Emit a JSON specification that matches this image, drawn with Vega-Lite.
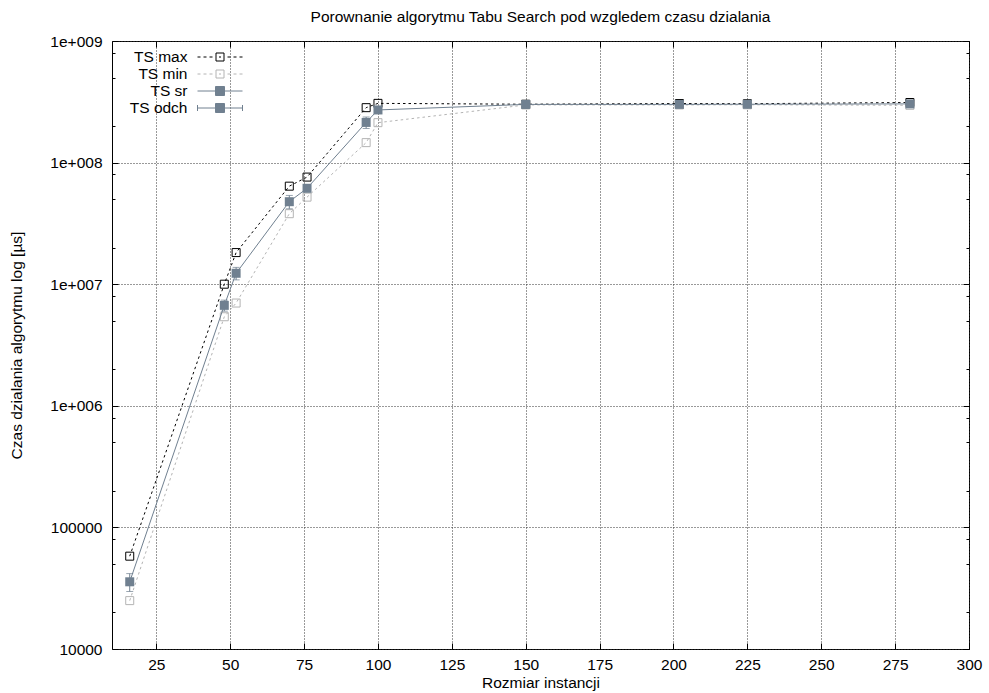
{
  "$schema": "https://vega.github.io/schema/vega-lite/v6.json",
  "width": 857,
  "height": 608,
  "autosize": {"type": "none"},
  "padding": {"left": 112, "top": 41, "right": 20, "bottom": 44},
  "background": "white",
  "title": {
    "text": "Porownanie algorytmu Tabu Search pod wzgledem czasu dzialania",
    "font": "Liberation Sans",
    "fontSize": 15.5,
    "fontWeight": "normal",
    "color": "#000",
    "anchor": "middle",
    "offset": 9
  },
  "config": {
    "font": "Liberation Sans",
    "view": {"stroke": "#000", "strokeWidth": 1},
    "axis": {
      "domain": false,
      "grid": false,
      "labelFont": "Liberation Sans",
      "labelFontSize": 15.5,
      "labelColor": "#000",
      "labelFlush": false,
      "labelOverlap": false,
      "titleFont": "Liberation Sans",
      "titleFontSize": 15.5,
      "titleFontWeight": "normal",
      "titleColor": "#000",
      "tickColor": "#000",
      "tickWidth": 1
    }
  },
  "datasets": {
    "tabu": [
      {"n": 16, "max": 58000, "min": 25000, "sr": 35700, "sd": 6000},
      {"n": 48, "max": 10000000, "min": 5400000, "sr": 6700000, "sd": 700000},
      {"n": 52, "max": 18200000, "min": 7000000, "sr": 12300000, "sd": 1450000},
      {"n": 70, "max": 64000000, "min": 38000000, "sr": 47700000, "sd": 6000000},
      {"n": 76, "max": 76000000, "min": 52000000, "sr": 61500000, "sd": 4000000},
      {"n": 96, "max": 283000000, "min": 146000000, "sr": 214000000, "sd": 23000000},
      {"n": 100, "max": 307000000, "min": 213000000, "sr": 271000000, "sd": 10000000},
      {"n": 150, "max": 302000000, "min": 298000000, "sr": 301000000, "sd": 3000000},
      {"n": 202, "max": 306000000, "min": 298000000, "sr": 301000000, "sd": 3000000},
      {"n": 225, "max": 305000000, "min": 299000000, "sr": 302000000, "sd": 3000000},
      {"n": 280, "max": 312000000, "min": 296000000, "sr": 304000000, "sd": 4000000}
    ],
    "legendEntries": []
  },
  "resolve": {"axis": {"x": "independent", "y": "independent"}},
  "layer": [
    {
      "data": {"name": "tabu"},
      "mark": {"type": "line", "color": "#000", "strokeWidth": 1, "strokeDash": [2.5, 3]},
      "encoding": {
        "x": {
          "field": "n", "type": "quantitative",
          "scale": {"type": "linear", "domain": [10, 300], "nice": false, "zero": false},
          "axis": {
            "orient": "bottom",
            "values": [25, 50, 75, 100, 125, 150, 175, 200, 225, 250, 275, 300],
            "ticks": false,
            "labelPadding": 8,
            "grid": true,
            "gridColor": "#333",
            "gridDash": [1, 2],
            "gridWidth": 1,
            "title": "Rozmiar instancji",
            "titlePadding": 3
          }
        },
        "y": {
          "field": "max", "type": "quantitative",
          "scale": {"type": "log", "domain": [10000, 1000000000], "nice": false},
          "axis": {
            "orient": "left",
            "values": [10000, 100000, 1000000, 10000000, 100000000, 1000000000],
            "ticks": false,
            "labelPadding": 10,
            "labelExpr": "datum.value >= 1000000 ? '1e+00' + round(log(datum.value) / LN10) : format(datum.value, 'd')",
            "grid": true,
            "gridColor": "#333",
            "gridDash": [1, 2],
            "gridWidth": 1,
            "title": "Czas dzialania algorytmu log [µs]",
            "titlePadding": 25
          }
        }
      }
    },
    {
      "data": {"name": "tabu"},
      "mark": {"type": "point", "shape": "square", "size": 64, "filled": false, "color": "#000", "strokeWidth": 1, "opacity": 1},
      "encoding": {
        "x": {"field": "n", "type": "quantitative", "scale": {"type": "linear", "domain": [10, 300], "nice": false, "zero": false}, "axis": null},
        "y": {"field": "max", "type": "quantitative", "scale": {"type": "log", "domain": [10000, 1000000000], "nice": false}, "axis": null}
      }
    },
    {
      "data": {"name": "tabu"},
      "mark": {"type": "line", "color": "#b4b4b4", "strokeWidth": 1, "strokeDash": [2.5, 3]},
      "encoding": {
        "x": {
          "field": "n", "type": "quantitative",
          "scale": {"type": "linear", "domain": [10, 300], "nice": false, "zero": false},
          "axis": {
            "orient": "bottom",
            "values": [25, 50, 75, 100, 125, 150, 175, 200, 225, 250, 275, 300],
            "labels": false,
            "tickSize": -6,
            "title": null
          }
        },
        "y": {
          "field": "min", "type": "quantitative",
          "scale": {"type": "log", "domain": [10000, 1000000000], "nice": false},
          "axis": {
            "orient": "left",
            "values": [10000, 20000, 50000, 80000, 100000, 200000, 500000, 800000, 1000000, 2000000, 5000000, 8000000, 10000000, 20000000, 50000000, 80000000, 100000000, 200000000, 500000000, 800000000, 1000000000],
            "labels": false,
            "tickSize": {"condition": {"test": "abs(log(datum.value) / LN10 - round(log(datum.value) / LN10)) < 0.01", "value": -6}, "value": -3},
            "title": null
          }
        }
      }
    },
    {
      "data": {"name": "tabu"},
      "mark": {"type": "point", "shape": "square", "size": 64, "filled": false, "color": "#b4b4b4", "strokeWidth": 1, "opacity": 1},
      "encoding": {
        "x": {"field": "n", "type": "quantitative", "scale": {"type": "linear", "domain": [10, 300], "nice": false, "zero": false}, "axis": null},
        "y": {"field": "min", "type": "quantitative", "scale": {"type": "log", "domain": [10000, 1000000000], "nice": false}, "axis": null}
      }
    },
    {
      "data": {"name": "tabu"},
      "mark": {"type": "line", "color": "#708090", "strokeWidth": 1},
      "encoding": {
        "x": {
          "field": "n", "type": "quantitative",
          "scale": {"type": "linear", "domain": [10, 300], "nice": false, "zero": false},
          "axis": {
            "orient": "top",
            "values": [25, 50, 75, 100, 125, 150, 175, 200, 225, 250, 275, 300],
            "labels": false,
            "tickSize": -6,
            "title": null
          }
        },
        "y": {
          "field": "sr", "type": "quantitative",
          "scale": {"type": "log", "domain": [10000, 1000000000], "nice": false},
          "axis": {
            "orient": "right",
            "values": [10000, 20000, 50000, 80000, 100000, 200000, 500000, 800000, 1000000, 2000000, 5000000, 8000000, 10000000, 20000000, 50000000, 80000000, 100000000, 200000000, 500000000, 800000000, 1000000000],
            "labels": false,
            "tickSize": {"condition": {"test": "abs(log(datum.value) / LN10 - round(log(datum.value) / LN10)) < 0.01", "value": -6}, "value": -3},
            "title": null
          }
        }
      }
    },
    {
      "data": {"name": "tabu"},
      "mark": {"type": "errorbar", "ticks": true, "size": 7, "thickness": 1, "color": "#708090"},
      "encoding": {
        "x": {"field": "n", "type": "quantitative", "scale": {"type": "linear", "domain": [10, 300], "nice": false, "zero": false}, "axis": null},
        "y": {"field": "sr", "type": "quantitative", "scale": {"type": "log", "domain": [10000, 1000000000], "nice": false}, "axis": null},
        "yError": {"field": "sd"}
      }
    },
    {
      "data": {"name": "tabu"},
      "mark": {"type": "point", "shape": "square", "size": 81, "filled": true, "color": "#708090", "opacity": 1},
      "encoding": {
        "x": {"field": "n", "type": "quantitative", "scale": {"type": "linear", "domain": [10, 300], "nice": false, "zero": false}, "axis": null},
        "y": {"field": "sr", "type": "quantitative", "scale": {"type": "log", "domain": [10000, 1000000000], "nice": false}, "axis": null}
      }
    },
    {
      "data": {"name": "legendEntries"},
      "mark": {"type": "point", "size": 225, "strokeWidth": 1},
      "encoding": {
        "shape": {
          "field": "series", "type": "nominal",
          "scale": {
            "domain": ["TS max", "TS min", "TS sr", "TS odch"],
            "range": [
              "M0,-0.9333M0,0.9333M-3,0H-2.6M-2.2,0H-1.8M-1.4,0H-1M1,0H1.4M1.8,0H2.2M2.6,0H3M-0.1333,0H0.1333M-0.5333,-0.5333H0.5333V0.5333H-0.5333Z",
              "M0,-0.9333M0,0.9333M-3,0H-2.6M-2.2,0H-1.8M-1.4,0H-1M1,0H1.4M1.8,0H2.2M2.6,0H3M-0.1333,0H0.1333M-0.5333,-0.5333H0.5333V0.5333H-0.5333Z",
              "M0,-0.9333M0,0.9333M-3,0H3M-0.6,-0.6H0.6V0.6H-0.6Z",
              "M0,-0.9333M0,0.9333M-3,0H3M-3,-0.4V0.4M3,-0.4V0.4M-0.6,-0.6H0.6V0.6H-0.6Z"
            ]
          },
          "legend": {
            "orient": "none",
            "legendX": 100,
            "legendY": 8,
            "title": null,
            "padding": 0,
            "rowPadding": -3,
            "symbolSize": 225,
            "symbolStrokeWidth": 1,
            "symbolOpacity": 1,
            "labelAlign": "right",
            "labelBaseline": "middle",
            "labelOffset": -40.5,
            "labelFont": "Liberation Sans",
            "labelFontSize": 15.5,
            "labelColor": "#000",
            "labelLimit": 200
          }
        },
        "stroke": {
          "field": "series", "type": "nominal",
          "scale": {"domain": ["TS max", "TS min", "TS sr", "TS odch"], "range": ["#000000", "#b4b4b4", "#708090", "#708090"]}
        },
        "fill": {
          "field": "series", "type": "nominal",
          "scale": {"domain": ["TS max", "TS min", "TS sr", "TS odch"], "range": ["transparent", "transparent", "#708090", "#708090"]}
        }
      }
    }
  ]
}
